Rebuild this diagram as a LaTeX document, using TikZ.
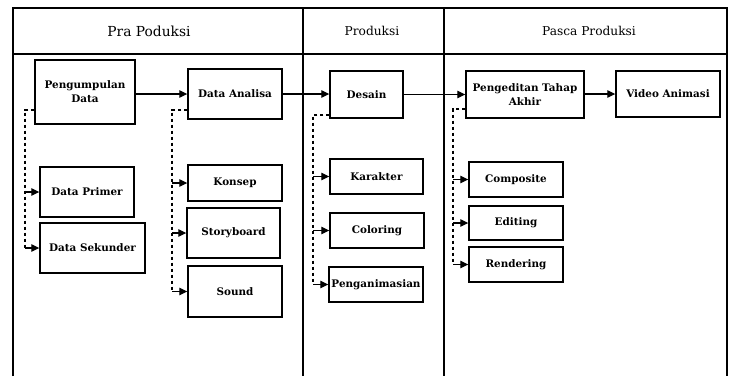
\documentclass[tikz,border=0pt]{standalone}
\usepackage{fontspec}
\setmainfont{DejaVu Serif}
\usetikzlibrary{arrows.meta}
\begin{document}
\begin{tikzpicture}[x=1pt,y=-1pt,
  box/.style={draw, line width=1.4pt, inner sep=0pt, align=center,
    font=\bfseries\fontsize{10.4}{14}\selectfont},
  frameline/.style={line width=1.2pt},
  arr/.style={line width=1.1pt, -{Triangle[length=8pt,width=7.5pt]}},
  dsh/.style={line width=1.2pt, dash pattern=on 3.5pt off 2.5pt},
  hdr/.style={inner sep=0pt, font=\fontsize{12.2}{14}\selectfont}]
\useasboundingbox (0,0) rectangle (732,376);
\fill[white] (0,0) rectangle (732,376);
% frame
\draw[frameline] (13,376) -- (13,8) -- (727,8) -- (727,376);
\draw[frameline] (13,54) -- (727,54);
\draw[frameline] (303,8) -- (303,376);
\draw[frameline] (444,8) -- (444,376);
% headers
\node[hdr, font=\fontsize{13.8}{15}\selectfont] (h1) at (149,31) {Pra Poduksi};
\node[hdr] (h2) at (372,31) {Produksi};
\node[hdr] (h3) at (589,31) {Pasca Produksi};
% boxes
\node[box, minimum width=100pt, minimum height=64pt] (pd) at (85,92) {Pengumpulan\\Data};
\node[box, minimum width=94pt, minimum height=50pt] (dp) at (87,192) {Data Primer};
\node[box, minimum width=105pt, minimum height=50pt] (ds) at (92.5,248) {Data Sekunder};
\node[box, minimum width=94pt, minimum height=50pt] (da) at (235,94) {Data Analisa};
\node[box, minimum width=94pt, minimum height=36pt] (ko) at (235,183) {Konsep};
\node[box, minimum width=93pt, minimum height=50pt] (sb) at (233.5,233) {Storyboard};
\node[box, minimum width=94pt, minimum height=51pt] (so) at (235,291.5) {Sound};
\node[box, minimum width=73pt, minimum height=47pt] (de) at (366.5,94.5) {Desain};
\node[box, minimum width=93pt, minimum height=35pt] (ka) at (376.5,176.5) {Karakter};
\node[box, minimum width=94pt, minimum height=35pt] (co) at (377,230.5) {Coloring};
\node[box, minimum width=94pt, minimum height=35pt] (pa) at (376,284.5) {Penganimasian};
\node[box, minimum width=118pt, minimum height=47pt] (pe) at (525,94.5) {Pengeditan Tahap\\Akhir};
\node[box, minimum width=104pt, minimum height=46pt] (va) at (668,94) {Video Animasi};
\node[box, minimum width=94pt, minimum height=35pt] (cm) at (516,179.5) {Composite};
\node[box, minimum width=94pt, minimum height=34pt] (ed) at (516,223) {Editing};
\node[box, minimum width=94pt, minimum height=35pt] (re) at (516,264.5) {Rendering};
% main flow
\draw[arr] (pd.east |- da.west) -- (da.west);
\draw[arr] (da.east) -- (de.west |- da.east);
\draw[arr] (de.east) -- (pe.west);
\draw[arr] (pe.east |- va.west) -- (va.west);
% dashed branches
\coordinate (t1) at (25,110);
\draw[dsh] (pd.west |- t1) -- (t1) -- (t1 |- ds.west);
\draw[arr] (t1 |- dp.west) -- (dp.west);
\draw[arr] (t1 |- ds.west) -- (ds.west);
\coordinate (t2) at (172,110);
\draw[dsh] (da.west |- t2) -- (t2) -- (t2 |- so.west);
\draw[arr] (t2 |- ko.west) -- (ko.west);
\draw[arr] (t2 |- sb.west) -- (sb.west);
\draw[arr] (t2 |- so.west) -- (so.west);
\coordinate (t3) at (313,115);
\draw[dsh] (de.west |- t3) -- (t3) -- (t3 |- pa.west);
\draw[arr] (t3 |- ka.west) -- (ka.west);
\draw[arr] (t3 |- co.west) -- (co.west);
\draw[arr] (t3 |- pa.west) -- (pa.west);
\coordinate (t4) at (453,109);
\draw[dsh] (pe.west |- t4) -- (t4) -- (t4 |- re.west);
\draw[arr] (t4 |- cm.west) -- (cm.west);
\draw[arr] (t4 |- ed.west) -- (ed.west);
\draw[arr] (t4 |- re.west) -- (re.west);
\end{tikzpicture}
\end{document}
